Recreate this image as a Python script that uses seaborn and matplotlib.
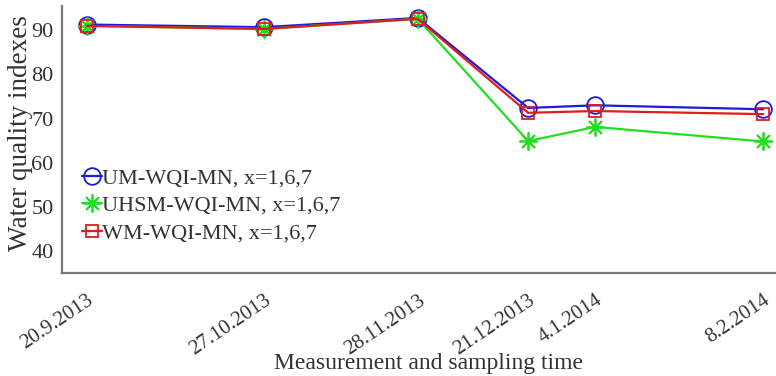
import matplotlib
matplotlib.use("Agg")
import matplotlib.pyplot as plt
import seaborn as sns
import pandas as pd

# Sampling dates and index values
dates = ["2013-09-20", "2013-10-27", "2013-11-28", "2013-12-21", "2014-01-04", "2014-02-08"]
date_labels = ["20.9.2013", "27.10.2013", "28.11.2013", "21.12.2013", "4.1.2014", "8.2.2014"]
um_wqi = [91.3, 90.7, 92.8, 72.4, 73.0, 72.1]
uhsm_wqi = [91.0, 90.3, 92.6, 64.9, 68.1, 64.8]
wm_wqi = [91.0, 90.3, 92.6, 71.3, 71.7, 71.0]
series_names = ["UM-WQI-MN, x=1,6,7", "UHSM-WQI-MN, x=1,6,7", "WM-WQI-MN, x=1,6,7"]
y_ticks = [40, 50, 60, 70, 80, 90]

sns.set_theme(style="white")
plt.rcParams["font.family"] = ["Liberation Serif", "DejaVu Serif"]

t = pd.to_datetime(dates)
fig = plt.figure(figsize=(7.76, 3.76), dpi=100)
ax = fig.add_axes([62 / 776, 103 / 376, 714 / 776, 267 / 376])

styles = [
    (um_wqi, "#1a1ae0", "o", 12),
    (uhsm_wqi, "#22dd22", (8, 2, 0), 13),
    (wm_wqi, "#e01c1c", "s", 9),
]
for (vals, col, mk, ms), name in zip(styles, series_names):
    sns.lineplot(x=t, y=vals, ax=ax, color=col, marker=mk, markersize=ms,
                 markerfacecolor="none", markeredgecolor=col, markeredgewidth=1.3,
                 linewidth=1.6, label=name)

ax.set_ylim(35, 95.5)
ax.set_xlim(pd.Timestamp("2013-09-14 20:00"), pd.Timestamp("2014-02-10 16:00"))
ax.set_yticks(y_ticks)
ax.set_yticklabels([str(v) for v in y_ticks], fontsize=16, color="#333333")
ax.set_xticks(t)
ax.set_xticklabels(date_labels, rotation=34, ha="right", va="top",
                   rotation_mode="anchor", fontsize=15, color="#333333")
ax.tick_params(axis="both", direction="in", length=5, width=1.2, color="#666666")
ax.tick_params(axis="x", pad=13)
ax.tick_params(axis="y", pad=6)

for side in ("top", "right"):
    ax.spines[side].set_visible(False)
for side in ("left", "bottom"):
    ax.spines[side].set_color("#777777")
    ax.spines[side].set_linewidth(1.6)

ax.set_ylabel("Water quality indexes", fontsize=19.5, color="#333333")
ax.yaxis.set_label_coords(-0.040, 0.524)
ax.set_xlabel("Measurement and sampling time", fontsize=17, color="#333333")
ax.xaxis.set_label_coords(0.513, -0.30)

ax.legend(loc="center left", bbox_to_anchor=(0.028, 0.252), frameon=False,
          fontsize=16, handlelength=0.9, handletextpad=0.0, labelspacing=0.32,
          borderpad=0, borderaxespad=0.0, labelcolor="#333333")

fig.savefig("out.png", dpi=100)
